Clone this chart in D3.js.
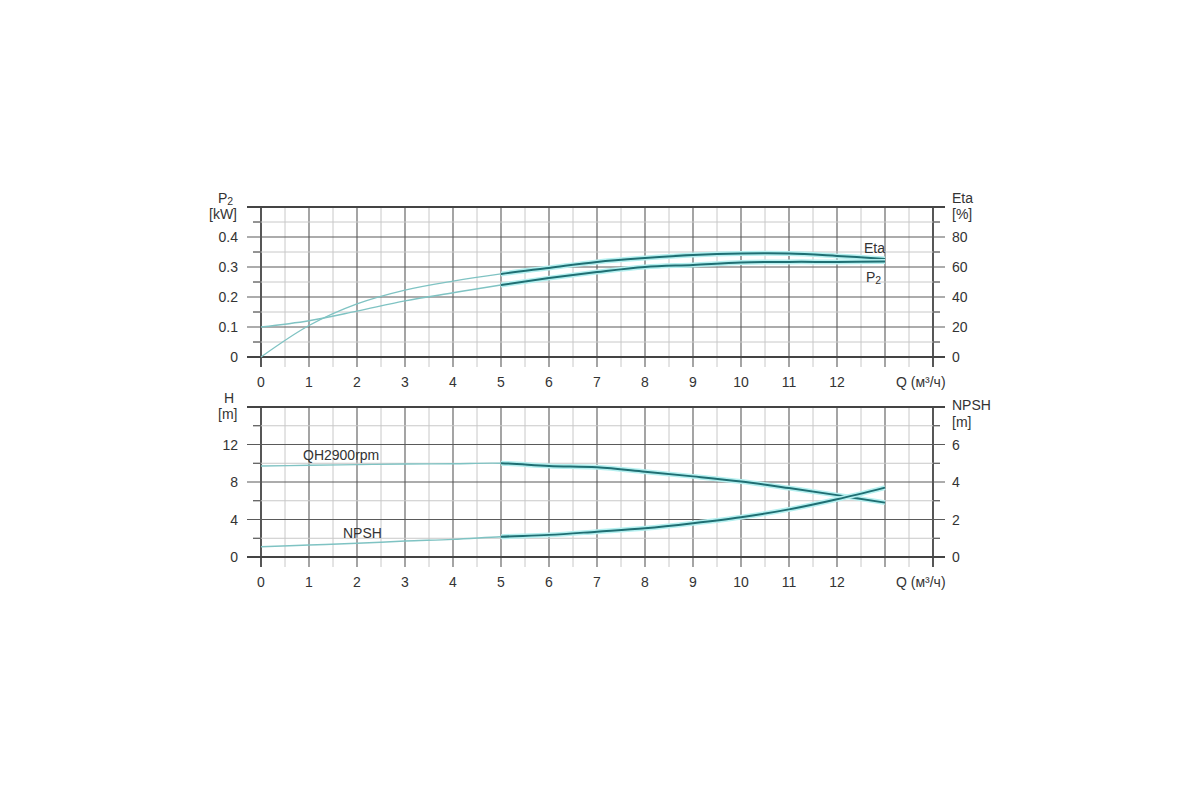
<!DOCTYPE html>
<html><head><meta charset="utf-8">
<script src="https://cdn.jsdelivr.net/npm/d3@7"></script>
<style>body{margin:0;background:#fff;}svg{display:block;font-family:"Liberation Sans",Arial,sans-serif;}</style>
</head><body>
<svg id="c" width="1200" height="800"></svg>
<script>
// ---- data ----
const flowQ = [0,1,2,3,4,5,6,7,8,9,10,11,12,13];
const etaPct = [0,21,35.4,44.6,50.6,55.4,59.4,63.4,66,68,69,69,67.4,65.4];
const p2kW = [0.1,0.121,0.153,0.187,0.214,0.24,0.263,0.283,0.3,0.307,0.315,0.317,0.317,0.318];
const headH = [9.7,9.78,9.85,9.92,9.95,10.0,9.7,9.57,9.1,8.6,8.05,7.35,6.6,5.8];
const npshM = [0.55,0.64,0.73,0.85,0.94,1.08,1.18,1.35,1.53,1.8,2.12,2.54,3.08,3.7];
const xTicks = [0,1,2,3,4,5,6,7,8,9,10,11,12];
const p2Ticks = [0,0.1,0.2,0.3,0.4];
const etaTicks = [0,20,40,60,80];
const hTicks = [0,4,8,12];
const npshTicks = [0,2,4,6];
const splitQ = 5;

const svg = d3.select("#c");
const x = d3.scaleLinear().domain([0,14]).range([261,933]);
const yP = d3.scaleLinear().domain([0,0.5]).range([357,207]);
const yE = d3.scaleLinear().domain([0,100]).range([357,207]);
const yH = d3.scaleLinear().domain([0,16]).range([557,407]);
const yN = d3.scaleLinear().domain([0,8]).range([557,407]);

const dark = "#5a5a5a", light = "#c8c8c8", axisC = "#444", txt = "#333";
const fs = 14;

function panel(yL, yR, leftTicks, rightTicks, leftFmt, minorStep, majorStep) {
  const g = svg.append("g");
  const [y0, y1] = yL.domain();
  const top = yL(y1), bot = yL(y0);
  for (let q = 0; q <= 14.001; q += 0.5) {
    const isInt = Math.abs(q - Math.round(q)) < 1e-6;
    g.append("line").attr("x1", x(q)).attr("x2", x(q)).attr("y1", top).attr("y2", bot + 10)
      .attr("stroke", (q === 0 || q === 14) ? axisC : (isInt ? dark : light))
      .attr("stroke-width", (q === 0 || q === 14) ? 1.8 : (isInt ? 1.1 : 1));
  }
  for (let v = y0; v <= y1 + 1e-9; v += minorStep) {
    const isMaj = Math.abs(v / majorStep - Math.round(v / majorStep)) < 1e-6;
    const edge = Math.abs(v - y0) < 1e-9 || Math.abs(v - y1) < 1e-9;
    g.append("line")
      .attr("x1", isMaj || edge ? 247 : 253).attr("x2", isMaj || edge ? 945 : 940)
      .attr("y1", yL(v)).attr("y2", yL(v))
      .attr("stroke", edge ? axisC : (isMaj ? dark : light))
      .attr("stroke-width", edge ? 1.8 : (isMaj ? 1.1 : 1));
    if (!isMaj && !edge) {
      g.append("line").attr("x1", 253).attr("x2", 261).attr("y1", yL(v)).attr("y2", yL(v)).attr("stroke", axisC);
      g.append("line").attr("x1", 933).attr("x2", 940).attr("y1", yL(v)).attr("y2", yL(v)).attr("stroke", axisC);
    }
  }
  g.selectAll(".ll").data(leftTicks).join("text")
    .attr("x", 238).attr("y", d => yL(d) + 5).attr("text-anchor", "end")
    .attr("font-size", fs).attr("fill", txt).text(leftFmt);
  g.selectAll(".rl").data(rightTicks).join("text")
    .attr("x", 952).attr("y", d => yR(d) + 5).attr("text-anchor", "start")
    .attr("font-size", fs).attr("fill", txt).text(d => d);
  g.selectAll(".bl").data(xTicks).join("text")
    .attr("x", d => x(d)).attr("y", bot + 30).attr("text-anchor", "middle")
    .attr("font-size", fs).attr("fill", txt).text(d => d);
  g.append("text").attr("x", 896).attr("y", bot + 30).attr("font-size", fs).attr("fill", txt).text("Q (м³/ч)");
  return g;
}

panel(yP, yE, p2Ticks, etaTicks, d => d === 0 ? "0" : d.toFixed(1), 0.05, 0.1);
panel(yH, yN, hTicks, npshTicks, d => d, 2, 4);

const tP = svg.append("text").attr("x", 218).attr("y", 203).attr("font-size", fs).attr("fill", txt);
tP.append("tspan").text("P");
tP.append("tspan").attr("font-size", 10.5).attr("dy", 2).text("2");
svg.append("text").attr("x", 209).attr("y", 219).attr("font-size", fs).attr("fill", txt).text("[kW]");
svg.append("text").attr("x", 952).attr("y", 203).attr("font-size", fs).attr("fill", txt).text("Eta");
svg.append("text").attr("x", 952).attr("y", 219).attr("font-size", fs).attr("fill", txt).text("[%]");
svg.append("text").attr("x", 224).attr("y", 403).attr("font-size", fs).attr("fill", txt).text("H");
svg.append("text").attr("x", 218).attr("y", 419).attr("font-size", fs).attr("fill", txt).text("[m]");
svg.append("text").attr("x", 952).attr("y", 410).attr("font-size", fs).attr("fill", txt).text("NPSH");
svg.append("text").attr("x", 952).attr("y", 427).attr("font-size", fs).attr("fill", txt).text("[m]");

const defs = svg.append("defs");
defs.append("clipPath").attr("id", "clipL").append("rect")
  .attr("x", 0).attr("y", 0).attr("width", x(splitQ)).attr("height", 800);
defs.append("clipPath").attr("id", "clipD").append("rect")
  .attr("x", x(splitQ)).attr("y", 0).attr("width", 1200 - x(splitQ)).attr("height", 800);

function curve(vals, yScale) {
  const pts = flowQ.map((q, i) => [q, vals[i]]);
  const line = d3.line().x(d => x(d[0])).y(d => yScale(d[1])).curve(d3.curveCatmullRom.alpha(0.5));
  const d = line(pts);
  svg.append("path").attr("d", d).attr("clip-path", "url(#clipL)").attr("fill", "none").attr("stroke", "#7fc3c3").attr("stroke-width", 1.4);
  svg.append("path").attr("d", d).attr("clip-path", "url(#clipD)").attr("fill", "none").attr("stroke", "#b5f0f0").attr("stroke-width", 5);
  svg.append("path").attr("d", d).attr("clip-path", "url(#clipD)").attr("fill", "none").attr("stroke", "#1f6f73").attr("stroke-width", 2);
}
curve(etaPct, yE);
curve(p2kW, yP);
curve(headH, yH);
curve(npshM, yN);

svg.append("text").attr("x", 864).attr("y", 253).attr("font-size", fs).attr("fill", txt).text("Eta");
const tP2 = svg.append("text").attr("x", 866).attr("y", 282).attr("font-size", fs).attr("fill", txt);
tP2.append("tspan").text("P");
tP2.append("tspan").attr("font-size", 10.5).attr("dy", 2).text("2");
svg.append("text").attr("x", 303).attr("y", 460).attr("font-size", fs).attr("fill", txt).text("QH2900rpm");
svg.append("text").attr("x", 343).attr("y", 538).attr("font-size", fs).attr("fill", txt).text("NPSH");
</script>
</body></html>
